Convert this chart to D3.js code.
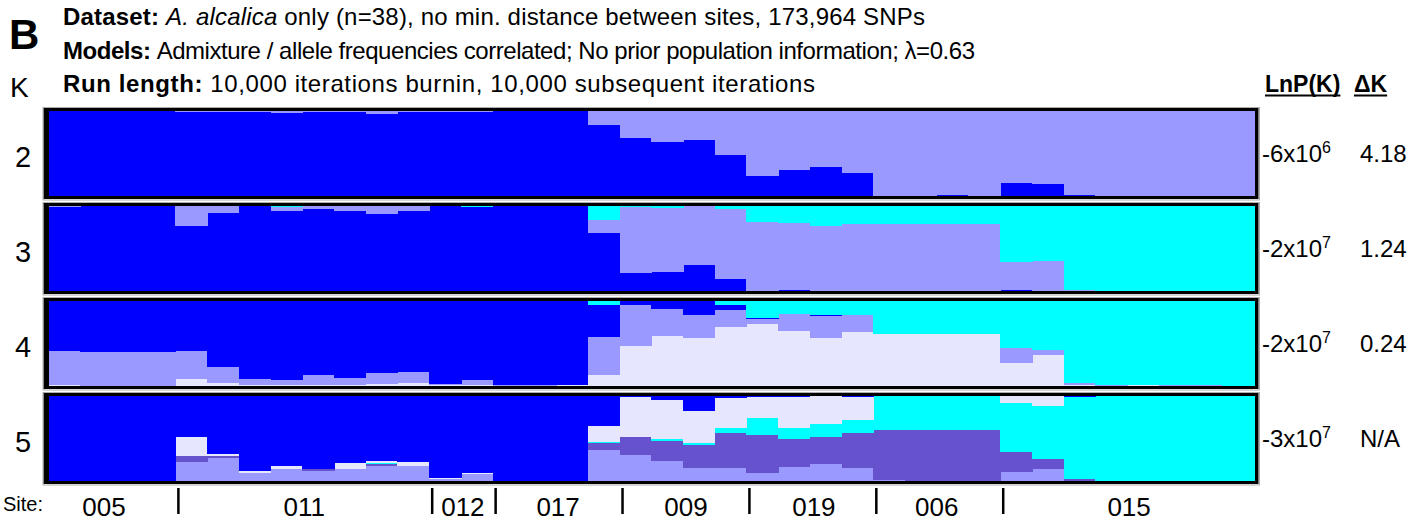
<!DOCTYPE html>
<html>
<head>
<meta charset="utf-8">
<script src="https://cdn.jsdelivr.net/npm/d3@7"></script>
<style>
  html, body { margin: 0; padding: 0; background: #fff; }
  svg { display: block; font-family: "Liberation Sans", Arial, sans-serif; }
</style>
</head>
<body>
<svg id="chart" width="1416" height="521"></svg>
<script>
// STRUCTURE membership (Q) per individual, listed bottom-to-top in each K's stack order.
const kValues = [2, 3, 4, 5];

const clusterColors = {
  blue: "#0000FF",
  lilac: "#9999FF",
  cyan: "#00FFFF",
  lavender: "#E6E6FF",
  purple: "#6652CC"
};

const k2Order = ["blue", "lilac"];
const k2Rows = [
  [.995, .005], [.995, .005], [.995, .005], [.995, .005],
  [.988, .012], [.988, .012], [.992, .008], [.976, .024], [.990, .010], [.990, .010], [.965, .035], [.990, .010],
  [.990, .010], [.988, .012],
  [.995, .005], [.995, .005], [.995, .005], [.835, .165],
  [.682, .318], [.635, .365], [.659, .341], [.482, .518],
  [.235, .765], [.306, .694], [.341, .659], [.271, .729],
  [.005, .995], [.002, .998], [.010, .990], [.002, .998],
  [.153, .847], [.141, .859], [.010, .990], [.002, .998], [.002, .998], [.002, .998], [.002, .998], [.002, .998]
];

const k3Order = ["blue", "lilac", "cyan"];
const k3Rows = [
  [.992, .008, 0], [.998, .002, 0], [.998, .002, 0], [.998, .002, 0],
  [.760, .235, .005], [.918, .082, 0], [.995, .005, 0], [.945, .047, .008], [.965, .035, 0], [.941, .059, 0], [.906, .094, 0], [.941, .059, 0],
  [.995, .005, 0], [.990, .002, .008],
  [.998, .002, 0], [.998, .002, 0], [.998, .002, 0], [.682, .153, .165],
  [.212, .780, .008], [.224, .757, .020], [.306, .689, .005], [.141, .824, .035],
  [0, .812, .188], [.010, .790, .200], [0, .765, .235], [0, .790, .210],
  [0, .788, .212], [0, .788, .212], [0, .788, .212], [0, .788, .212],
  [.010, .330, .660], [0, .353, .647], [0, .012, .988], [0, .005, .995], [0, .005, .995], [0, .005, .995], [0, .005, .995], [0, .005, .995]
];

const k4Order = ["lavender", "lilac", "blue", "cyan"];
const k4Rows = [
  [.008, .405, .587, 0], [0, .405, .595, 0], [0, .405, .595, 0], [0, .405, .595, 0],
  [.083, .333, .584, 0], [.036, .190, .774, 0], [.012, .071, .917, 0], [.012, .060, .928, 0], [.012, .119, .869, 0], [.012, .083, .905, 0], [.024, .131, .845, 0], [.036, .131, .833, 0],
  [.006, .018, .976, 0], [.012, .060, .928, 0],
  [0, .012, .988, 0], [0, .008, .992, 0], [.008, 0, .992, 0], [.131, .440, .381, .048],
  [.476, .476, .044, .004], [.583, .321, .095, .001], [.560, .274, .167, 0], [.690, .202, .060, .048],
  [.726, .060, .012, .202], [.643, .202, 0, .155], [.560, .262, .012, .167], [.631, .202, 0, .167],
  [.607, 0, 0, .393], [.607, 0, 0, .393], [.607, 0, 0, .393], [.607, 0, 0, .393],
  [.274, .179, 0, .548], [.369, .060, 0, .571], [.012, .024, 0, .964], [.004, .008, 0, .988], [.010, 0, 0, .990], [.004, .008, 0, .988], [.004, .008, 0, .988], [.005, 0, 0, .995]
];

const k5Order = ["lilac", "purple", "cyan", "lavender", "blue"];
const k5Rows = [
  [0, 0, 0, 0, 1], [0, 0, 0, 0, 1], [0, 0, 0, 0, 1], [0, 0, 0, 0, 1],
  [.220, .071, 0, .224, .485], [.268, .024, 0, .024, .684], [.090, 0, 0, .024, .886], [.138, 0, 0, .035, .827],
  [.114, .024, 0, 0, .862], [.138, 0, 0, .071, .791], [.173, .024, .012, .024, .767], [.173, 0, 0, .047, .780],
  [.020, 0, 0, .012, .968], [.079, 0, 0, .012, .909],
  [0, 0, 0, 0, 1], [0, 0, 0, 0, 1], [0, 0, 0, 0, 1], [.362, .083, .012, .189, .354],
  [.303, .213, 0, .472, .012], [.232, .236, .024, .460, .048], [.150, .272, .024, .378, .176], [.150, .413, .059, .354, .024],
  [.090, .449, .200, .248, .013], [.161, .331, .130, .366, .012], [.197, .319, .154, .330, 0], [.150, .413, .154, .271, .012],
  [.012, .587, .401, 0, 0], [0, .598, .402, 0, 0], [0, .598, .402, 0, 0], [0, .598, .402, 0, 0],
  [.102, .236, .579, .083, 0], [.138, .118, .626, .118, 0], [0, .020, .968, 0, .012], [0, 0, 1, 0, 0], [0, 0, 1, 0, 0], [0, 0, 1, 0, 0], [0, 0, 1, 0, 0], [0, 0, 1, 0, 0]
];

const siteNames = ["005", "011", "012", "017", "009", "019", "006", "015"];
const siteCounts = [4, 8, 2, 4, 4, 4, 4, 8];

const lnPBase = ["-6x10", "-2x10", "-2x10", "-3x10"];
const lnPExp = ["6", "7", "7", "7"];
const deltaK = ["4.18", "1.24", "0.24", "N/A"];

// ---- drawing ----
const svg = d3.select("#chart");
const nInd = k2Rows.length;
const panels = [
  { order: k2Order, rows: k2Rows },
  { order: k3Order, rows: k3Rows },
  { order: k4Order, rows: k4Rows },
  { order: k5Order, rows: k5Rows }
];

const x = d3.scaleBand().domain(d3.range(nInd)).range([48.5, 1254]).paddingInner(0).paddingOuter(0);
// top edge of each panel's plotting area
const panelTop = d3.scaleLinear().domain([2, 5]).range([111, 396]);
const panelH = 85;

panels.forEach((p, pi) => {
  const k = kValues[pi];
  const top = panelTop(k);
  const y = d3.scaleLinear().domain([0, 1]).range([top + panelH, top]);
  const table = p.rows.map((r, i) => {
    const o = { i };
    p.order.forEach((key, j) => { o[key] = r[j]; });
    return o;
  });
  const series = d3.stack().keys(p.order).offset(d3.stackOffsetExpand)(table);

  const g = svg.append("g").attr("class", "panel");
  // frame
  g.append("rect")
    .attr("x", 43.5).attr("y", top - 3)
    .attr("width", 1258.5 - 43.5).attr("height", panelH + 6)
    .attr("fill", "#000");
  g.append("rect")
    .attr("x", 43).attr("y", top - 3.5)
    .attr("width", 1259.5 - 43).attr("height", panelH + 7.5)
    .attr("fill", "none").attr("stroke", "#999").attr("stroke-width", 0.8);

  g.selectAll("g.layer").data(series).join("g")
    .attr("class", "layer")
    .attr("fill", s => clusterColors[s.key])
    .selectAll("rect").data(s => s).join("rect")
      .attr("x", d => x(d.data.i))
      .attr("width", x.bandwidth() + 0.6)
      .attr("y", d => y(d[1]))
      .attr("height", d => Math.max(0, y(d[0]) - y(d[1])))
      .attr("shape-rendering", "crispEdges");

  // K label
  svg.append("text")
    .attr("x", 23).attr("y", top + panelH / 2 + 13)
    .attr("text-anchor", "middle")
    .attr("font-size", 29)
    .text(k);

  // LnP(K) and ΔK
  const t = svg.append("text")
    .attr("x", 1262).attr("y", top + panelH / 2 + 8)
    .attr("font-size", 24);
  t.append("tspan").text(lnPBase[pi]);
  t.append("tspan").attr("dy", -9).attr("font-size", 16).text(lnPExp[pi]);
  svg.append("text")
    .attr("x", 1360).attr("y", top + panelH / 2 + 8)
    .attr("font-size", 24)
    .text(deltaK[pi]);
});

// header text
svg.append("text").attr("x", 9).attr("y", 49).attr("font-size", 42).attr("font-weight", "bold").text("B");
svg.append("text").attr("x", 10).attr("y", 97).attr("font-size", 28).text("K");

const headLines = [
  { y: 25, right: 925, parts: [["Dataset: ", "bold"], ["A. alcalica", "italic"], [" only (n=38), no min. distance between sites, 173,964 SNPs", ""]] },
  { y: 59, right: 975, parts: [["Models: ", "bold"], ["Admixture / allele frequencies correlated; No prior population information; \u03BB=0.63", ""]] },
  { y: 92, right: 815, parts: [["Run length: ", "bold"], ["10,000 iterations burnin, 10,000 subsequent iterations", ""]] }
];
headLines.forEach(l => {
  const t = svg.append("text").attr("x", 63).attr("y", l.y).attr("font-size", 24)
    .attr("textLength", l.right - 63).attr("lengthAdjust", "spacing");
  l.parts.forEach(([str, style]) => {
    const s = t.append("tspan").text(str);
    if (style === "bold") s.attr("font-weight", "bold");
    if (style === "italic") s.attr("font-style", "italic");
  });
});

// column headers, underlined
[["LnP(K)", 1265], ["\u0394K", 1354]].forEach(([label, hx]) => {
  const ht = svg.append("text").attr("x", hx).attr("y", 92)
    .attr("font-size", 23).attr("font-weight", "bold").text(label);
  const w = ht.node().getComputedTextLength();
  svg.append("line").attr("x1", hx).attr("x2", hx + w)
    .attr("y1", 95.5).attr("y2", 95.5).attr("stroke", "#000").attr("stroke-width", 2);
});

// site axis
svg.append("text").attr("x", 3).attr("y", 511).attr("font-size", 20).text("Site:");
const cum = d3.cumsum(siteCounts);
const x0 = x.range()[0];
const bw = x.step();
const labelShift = [-8, 2, 2, 2, 3, 4, 0, 2];
siteNames.forEach((name, i) => {
  const start = i === 0 ? 0 : cum[i - 1];
  const end = cum[i];
  const cx = x0 + (start + end) / 2 * bw + labelShift[i];
  svg.append("text").attr("x", cx).attr("y", 516)
    .attr("text-anchor", "middle").attr("font-size", 26).text(name);
  if (i > 0) {
    const tx = x0 + start * bw + 3;
    svg.append("line").attr("x1", tx).attr("x2", tx)
      .attr("y1", 488).attr("y2", 514)
      .attr("stroke", "#000").attr("stroke-width", 2.5);
  }
});
</script>
</body>
</html>
